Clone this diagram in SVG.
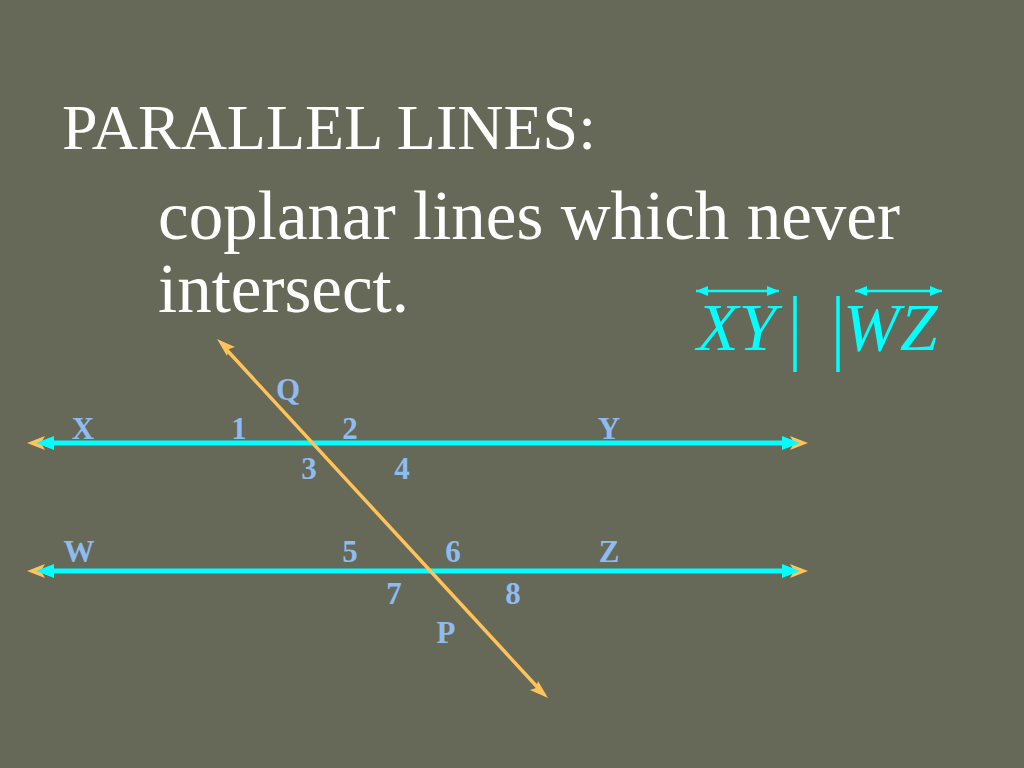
<svg xmlns="http://www.w3.org/2000/svg" width="1024" height="768" viewBox="0 0 1024 768">
<style>
.t{font-family:"Liberation Serif","Times New Roman",serif;fill:#ffffff}
.l{font-family:"Liberation Serif","Times New Roman",serif;fill:#8fbcf0;font-size:31px;font-weight:bold;text-anchor:middle}
.c{font-family:"Liberation Serif","Times New Roman",serif;fill:#00ffff;font-size:68px;font-style:italic}
.cy{stroke:#00ffff;stroke-width:5;fill:none}
.or{stroke:#ffc35a;stroke-width:3.5;fill:none}
</style>
<defs>
<marker id="sc" markerWidth="14" markerHeight="10" refX="12" refY="5" orient="auto-start-reverse" markerUnits="userSpaceOnUse"><path d="M0,0 L12,5 L0,10 Z" fill="#00ffff"/></marker>
</defs>
<rect width="1024" height="768" fill="#666858"/>
<g id="title">
<text class="t" x="62" y="149" font-size="64">PARALLEL LINES:</text>
<text class="t" x="158" y="239" font-size="69" textLength="742" lengthAdjust="spacingAndGlyphs">coplanar lines which never</text>
<text class="t" x="158" y="312" font-size="69">intersect.</text>
</g>
<g id="notation">
<text class="c" x="697" y="350">XY</text>
<text class="c" x="843" y="350">WZ</text>
<line x1="795" y1="296" x2="795" y2="372" stroke="#00ffff" stroke-width="3.5"/>
<line x1="838" y1="296" x2="838" y2="372" stroke="#00ffff" stroke-width="3.5"/>
<line x1="696" y1="291" x2="779" y2="291" stroke="#00ffff" stroke-width="2.5" marker-start="url(#sc)" marker-end="url(#sc)"/>
<line x1="855" y1="291" x2="942" y2="291" stroke="#00ffff" stroke-width="2.5" marker-start="url(#sc)" marker-end="url(#sc)"/>
</g>
<g id="connectors">
<g id="line-xy">
<path d="M27,443 L45,436 L41,443 L45,450 Z M808,443 L790,436 L794,443 L790,450 Z" fill="#ffc35a"/>
<path d="M36,443 L54,436 L54,450 Z M800,443 L782,436 L782,450 Z" fill="#00ffff"/>
<line class="cy" x1="50" y1="443" x2="786" y2="443"/>
</g>
<g id="line-wz">
<path d="M27,571 L45,564 L41,571 L45,578 Z M808,571 L790,564 L794,571 L790,578 Z" fill="#ffc35a"/>
<path d="M36,571 L54,564 L54,578 Z M800,571 L782,564 L782,578 Z" fill="#00ffff"/>
<line class="cy" x1="50" y1="571" x2="786" y2="571"/>
</g>
<g id="transversal">
<line class="or" x1="225" y1="348" x2="540" y2="690"/>
<path d="M217,339 L235,347 L229,349 L227,356 Z M548,698 L530,690 L536,688 L538,681 Z" fill="#ffc35a"/>
</g>
</g>
<g id="labels">
<text class="l" x="83" y="439">X</text>
<text class="l" x="239" y="439">1</text>
<text class="l" x="350" y="439">2</text>
<text class="l" x="609" y="439">Y</text>
<text class="l" x="309" y="479">3</text>
<text class="l" x="402" y="479">4</text>
<text class="l" x="288" y="400">Q</text>
<text class="l" x="79" y="562">W</text>
<text class="l" x="350" y="562">5</text>
<text class="l" x="453" y="562">6</text>
<text class="l" x="609" y="562">Z</text>
<text class="l" x="394" y="604">7</text>
<text class="l" x="513" y="604">8</text>
<text class="l" x="446" y="643">P</text>
</g>
</svg>
